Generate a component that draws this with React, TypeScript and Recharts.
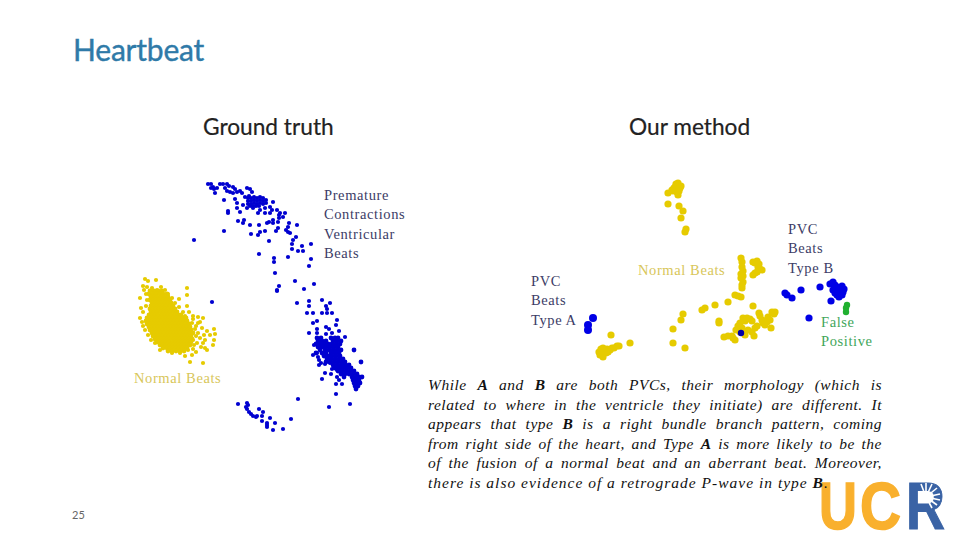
/**
 * Heartbeat slide: ground-truth clusters on the left, our method on the right.
 * Recharts draws the scatter marks; the slide text sits around them.
 */
import { ScatterChart, Scatter, XAxis, YAxis } from 'recharts';

type Pt = [number, number];
type Row = [number, number[]];

const SERIF = '"Liberation Serif", serif';
const SANS = 'Lato, "Open Sans", sans-serif';
const YELLOW = '#e6cb00';
const BLUE = '#0000d0';
const NAVY = '#0000a8';
const BRIGHT = '#0000e6';
const GREEN = '#20b030';

const truthNormalCore: Row[] = [
  [291, [150, 154, 158, 162]],
  [294, [149, 153, 156, 160, 163, 167]],
  [297, [151, 154, 157, 161, 164, 168]],
  [300, [150, 153, 156, 159, 163, 166, 170]],
  [303, [152, 155, 158, 161, 165, 168, 171]],
  [306, [151, 154, 157, 160, 163, 166, 170, 173]],
  [309, [150, 153, 156, 159, 162, 165, 168, 172, 175]],
  [312, [151, 154, 157, 161, 164, 167, 170, 174, 177]],
  [315, [149, 152, 155, 158, 162, 165, 168, 171, 175, 178, 181]],
  [318, [147, 150, 153, 156, 160, 163, 166, 169, 173, 176, 179, 183, 186]],
  [321, [146, 149, 152, 155, 158, 161, 165, 168, 171, 174, 177, 181, 184, 187]],
  [324, [147, 150, 153, 156, 159, 163, 166, 169, 172, 175, 179, 182, 185, 189]],
  [327, [149, 152, 155, 158, 161, 164, 168, 171, 174, 177, 180, 184, 187, 190]],
  [330, [150, 153, 156, 159, 163, 166, 169, 172, 176, 179, 182, 185, 188, 191]],
  [333, [152, 155, 158, 161, 164, 168, 171, 174, 177, 180, 184, 187, 190, 193]],
  [336, [153, 156, 159, 162, 166, 169, 172, 175, 178, 182, 185, 188, 191]],
  [339, [155, 158, 161, 164, 167, 170, 174, 177, 180, 183, 186, 189, 192]],
  [342, [157, 160, 163, 166, 169, 173, 176, 179, 182, 185, 188, 191]],
  [345, [160, 163, 166, 170, 173, 176, 179, 182, 185, 188, 190]],
  [348, [163, 167, 170, 173, 176, 179, 182, 185, 187]],
  [351, [168, 172, 176, 180, 184]],
];

const truthNormalEdge: Pt[] = [
  [145, 279], [148, 281], [156, 280], [187, 288], [143, 286], [144, 290], [161, 287], [165, 290],
  [140, 298], [187, 295], [179, 299], [187, 306], [141, 308], [147, 300], [168, 294], [214, 329],
  [207, 331], [215, 334], [210, 335], [214, 340], [213, 345], [207, 350], [205, 348], [196, 352],
  [192, 355], [185, 356], [190, 362], [203, 363], [172, 353], [180, 353], [202, 328], [203, 318],
  [198, 317], [193, 316], [193, 319], [200, 322], [140, 318], [142, 322], [145, 330], [151, 340],
  [155, 343], [200, 338], [203, 343], [198, 333], [196, 326], [205, 340], [194, 345], [201, 347],
  [147, 287], [152, 288], [157, 290], [146, 294], [172, 298], [175, 303], [179, 307], [183, 312],
  [143, 312], [146, 306], [192, 323], [195, 329], [198, 323], [196, 336], [193, 340], [197, 343],
  [189, 312], [185, 316], [143, 326], [148, 335], [204, 335], [160, 350], [188, 350], [193, 349],
];

const truthUpperPvc: Pt[] = [
  [208, 184], [211, 184], [213, 187], [211, 188], [214, 189], [215, 193], [217, 188], [220, 184],
  [223, 184], [227, 184], [229, 186], [225, 188], [227, 191], [230, 192], [233, 187], [235, 189],
  [233, 193], [237, 192], [240, 191], [242, 193], [247, 188], [250, 189], [252, 192], [249, 196],
  [245, 197], [235, 199], [224, 200], [237, 203], [243, 205], [237, 208], [228, 211], [228, 213],
  [240, 212], [247, 208], [273, 202], [270, 207], [265, 208], [260, 210], [253, 208], [258, 213],
  [265, 213], [272, 210], [277, 210], [280, 213], [285, 213], [283, 217], [279, 215], [270, 213],
  [279, 218], [273, 220], [269, 222], [267, 223], [273, 223], [278, 222], [289, 223], [297, 225],
  [288, 227], [286, 230], [288, 232], [290, 233], [278, 228], [276, 231], [265, 231], [259, 225],
  [250, 225], [243, 223], [238, 221], [244, 220], [260, 232], [258, 235], [251, 234], [224, 231],
  [194, 240], [269, 241], [296, 237], [293, 240], [292, 244], [302, 246], [311, 244], [292, 249],
  [298, 251], [303, 251], [259, 254], [274, 258], [274, 262], [288, 257], [311, 259], [309, 266],
  [275, 273], [295, 281], [314, 284], [279, 286], [277, 290], [304, 289], [212, 302],
  [248, 198], [251, 198], [254, 197], [257, 198], [260, 197], [263, 198], [248, 201], [251, 201],
  [254, 200], [257, 201], [260, 200], [263, 201], [266, 200], [248, 204], [251, 204], [254, 203],
  [257, 204], [260, 203], [263, 204], [266, 203], [250, 206], [253, 206], [256, 206], [259, 206],
];

const truthLowerPvc: Row[] = [
  [338, [317, 321, 331, 335, 338]],
  [341, [318, 322, 326, 333, 337, 341]],
  [344, [316, 320, 324, 328, 332, 336, 340]],
  [347, [318, 322, 326, 330, 334, 338]],
  [350, [320, 325, 329, 333, 337, 341, 354]],
  [353, [316, 322, 326, 331, 335, 339]],
  [356, [324, 328, 332, 336, 340]],
  [359, [327, 331, 335, 339, 343]],
  [362, [326, 330, 334, 338, 342, 345, 361]],
  [365, [333, 337, 341, 345, 349]],
  [368, [335, 339, 343, 347, 351]],
  [371, [338, 342, 346, 350, 354]],
  [374, [341, 345, 349, 353, 357]],
  [377, [344, 352, 356, 359, 362]],
  [380, [353, 356, 359]],
  [383, [354, 357, 360]],
  [386, [355, 358]],
  [389, [356]],
];

const truthLowerScatter: Pt[] = [
  [277, 291], [297, 303], [309, 301], [322, 300], [330, 303], [309, 306], [326, 306], [327, 309],
  [307, 313], [313, 313], [322, 313], [327, 313], [332, 313], [337, 320], [317, 321], [313, 323],
  [336, 325], [326, 327], [329, 329], [317, 329], [339, 331], [332, 333], [326, 334], [309, 333],
  [317, 333], [345, 337], [314, 345], [313, 355], [317, 353], [318, 357], [319, 360], [321, 363],
  [319, 365], [325, 364], [330, 363], [332, 369], [334, 367], [337, 370], [340, 371], [325, 373],
  [331, 374], [344, 375], [337, 377], [339, 380], [322, 379], [336, 384], [342, 384], [336, 394],
  [329, 407], [350, 404], [298, 399],
];

const truthLowerArc: Pt[] = [
  [238, 404], [247, 403], [246, 407], [248, 405], [247, 409], [249, 412], [251, 414], [253, 416],
  [256, 417], [259, 409], [263, 412], [262, 416], [262, 421], [257, 416], [267, 423], [267, 425],
  [267, 427], [270, 418], [275, 423], [273, 430], [283, 429], [291, 419],
];

// ---- Our method

const methodNormal: Pt[] = [
  [678, 183], [675, 187], [680, 188], [677, 192], [668, 193], [672, 190], [678, 195], [668, 204],
  [679, 206], [683, 211], [681, 218], [686, 229], [685, 232], [741, 258], [742, 262], [753, 262],
  [757, 261], [758, 267], [762, 270], [757, 272], [753, 275], [743, 271], [741, 278], [743, 282],
  [742, 288], [735, 295], [741, 297], [728, 302], [715, 305], [705, 308], [702, 310], [753, 306],
  [759, 313], [683, 314], [681, 320], [673, 329], [673, 343], [685, 348], [719, 321], [719, 323],
  [724, 337], [732, 336], [735, 340], [736, 330], [740, 323], [743, 318], [750, 319], [742, 328],
  [745, 335], [748, 330], [755, 328], [754, 336], [762, 320], [767, 322], [771, 328], [768, 317],
  [772, 312], [775, 312], [763, 323], [611, 335], [630, 343], [617, 346], [612, 348], [607, 349],
  [603, 348], [602, 352], [600, 355], [603, 357], [608, 352],
  [676, 184], [674, 188], [677, 189], [681, 186], [679, 191], [673, 191], [604, 350], [606, 353],
  [610, 350], [614, 348], [619, 346], [601, 349], [599, 352], [745, 321], [747, 318], [752, 321],
  [738, 326], [740, 332], [733, 338], [728, 336], [744, 332], [752, 332], [757, 326], [765, 325],
  [770, 320], [760, 316], [764, 321], [774, 314], [742, 267], [741, 274], [743, 276], [742, 285],
  [738, 296], [759, 264], [755, 263], [760, 269], [755, 273],
];

const methodTypeA: Pt[] = [[593, 318], [588, 325], [588, 330]];

const methodTypeB: Pt[] = [
  [785, 293], [787, 295], [792, 298], [801, 290], [820, 287], [831, 301], [809, 318], [833, 282],
  [830, 284], [837, 287], [842, 286], [833, 290], [838, 291], [843, 292], [837, 295], [842, 295],
  [835, 285], [840, 289], [835, 293], [839, 297], [844, 289],
];

const methodStray: Pt[] = [[741, 333]];
const methodFalsePositive: Pt[] = [[847, 305], [846, 308], [846, 312]];

// ---- Text

const prematureLabel = ['Premature', 'Contractions', 'Ventricular', 'Beats'];
const typeALabel = ['PVC', 'Beats', 'Type A'];
const typeBLabel = ['PVC', 'Beats', 'Type B'];
const falsePositiveLabel = ['False', 'Positive'];

const toData = (pts: Pt[]) => pts.map(([x, y]) => ({ x, y }));
const fromRows = (rows: Row[]) => rows.flatMap(([y, xs]) => xs.map((x) => ({ x, y })));

const dot = (r: number) => (p: any) => <circle cx={p.cx} cy={p.cy} r={r} fill={p.fill} />;

function Label({ lines, x, y, color, step = 19.4 }: { lines: string[]; x: number; y: number; color: string; step?: number }) {
  return (
    <>
      {lines.map((t, i) => (
        <div
          key={i}
          style={{
            position: 'absolute', left: x, top: y + i * step, fontFamily: SERIF, fontSize: 14.5,
            lineHeight: '18px', letterSpacing: 0.6, color, whiteSpace: 'nowrap',
          }}
        >
          {t}
        </div>
      ))}
    </>
  );
}

function Panel({ left, top, width, height, children }: any) {
  return (
    <div style={{ position: 'absolute', left, top }}>
      <ScatterChart width={width} height={height} margin={{ top: 0, right: 0, bottom: 0, left: 0 }}>
        <XAxis dataKey="x" type="number" hide domain={[left, left + width]} />
        <YAxis dataKey="y" type="number" hide reversed domain={[top, top + height]} />
        {children}
      </ScatterChart>
    </div>
  );
}

const paragraph: React.ReactNode[] = [
  <>While <b>A</b> and <b>B</b> are both PVCs, their morphology (which is</>,
  <>related to where in the ventricle they initiate) are different. It</>,
  <>appears that type <b>B</b> is a right bundle branch pattern, coming</>,
  <>from right side of the heart, and Type <b>A</b> is more likely to be the</>,
  <>of the fusion of a normal beat and an aberrant beat. Moreover,</>,
  <>there is also evidence of a retrograde P-wave in type <b>B</b>.</>,
];

const sunRays: Pt[] = [[921, 484], [926, 483], [932, 484], [937, 488], [940, 494], [940, 500], [937, 505], [932, 508]];

function Logo() {
  return (
    <svg width={170} height={90} style={{ position: 'absolute', left: 790, top: 450 }} viewBox="790 450 170 90">
      <g fontFamily='"Liberation Sans", sans-serif' fontWeight={700} fontSize={66}>
        <text x={819} y={529} textLength={38} lengthAdjust="spacingAndGlyphs" fill="#f9b02d" stroke="#f9b02d" strokeWidth={1.5}>U</text>
        <text x={860} y={529} textLength={41} lengthAdjust="spacingAndGlyphs" fill="#f9b02d" stroke="#f9b02d" strokeWidth={1.5}>C</text>
        <text x={906} y={529} textLength={39} lengthAdjust="spacingAndGlyphs" fill="#3a63a5" stroke="#3a63a5" strokeWidth={1}>R</text>
      </g>
      <circle cx={926} cy={497} r={6} fill="#fff" />
      {sunRays.map(([x, y], i) => (
        <line key={i} x1={926} y1={497} x2={x} y2={y} stroke="#fff" strokeWidth={1.6} />
      ))}
    </svg>
  );
}

export default function App() {
  return (
    <div style={{ position: 'absolute', left: 0, top: 0, width: 960, height: 540, background: '#fff', overflow: 'hidden' }}>
      <Logo />

      <div style={{ position: 'absolute', left: 73, top: 31, fontFamily: SANS, fontSize: 30, lineHeight: '36px', color: '#2f7aa8', letterSpacing: -0.2, WebkitTextStroke: '0.4px #2f7aa8' }}>
        Heartbeat
      </div>
      <div style={{ position: 'absolute', left: 203, top: 114, fontFamily: SANS, fontSize: 22.7, lineHeight: '26px', color: '#222', WebkitTextStroke: '0.2px #222' }}>
        Ground truth
      </div>
      <div style={{ position: 'absolute', left: 629, top: 114, fontFamily: SANS, fontSize: 22.7, lineHeight: '26px', color: '#222', WebkitTextStroke: '0.2px #222' }}>
        Our method
      </div>

      <Panel left={130} top={175} width={240} height={265}>
        <Scatter data={fromRows(truthNormalCore)} fill={YELLOW} shape={dot(2.4)} isAnimationActive={false} />
        <Scatter data={toData(truthNormalEdge)} fill={YELLOW} shape={dot(2.1)} isAnimationActive={false} />
        <Scatter data={toData(truthUpperPvc)} fill={BLUE} shape={dot(2.1)} isAnimationActive={false} />
        <Scatter data={fromRows(truthLowerPvc)} fill={BLUE} shape={dot(2.4)} isAnimationActive={false} />
        <Scatter data={toData(truthLowerScatter)} fill={BLUE} shape={dot(2.1)} isAnimationActive={false} />
        <Scatter data={toData(truthLowerArc)} fill={BLUE} shape={dot(2.1)} isAnimationActive={false} />
      </Panel>

      <Panel left={580} top={175} width={290} height={190}>
        <Scatter data={toData(methodNormal)} fill={YELLOW} shape={dot(3.6)} isAnimationActive={false} />
        <Scatter data={toData(methodTypeA)} fill={BRIGHT} shape={dot(4)} isAnimationActive={false} />
        <Scatter data={toData(methodTypeB)} fill={BRIGHT} shape={dot(3.6)} isAnimationActive={false} />
        <Scatter data={toData(methodStray)} fill={NAVY} shape={dot(3.2)} isAnimationActive={false} />
        <Scatter data={toData(methodFalsePositive)} fill={GREEN} shape={dot(3.2)} isAnimationActive={false} />
      </Panel>

      <Label lines={prematureLabel} x={324} y={186} color="#3c3c66" />
      <Label lines={['Normal Beats']} x={134} y={369} color="#d8c65a" />
      <Label lines={['Normal Beats']} x={638} y={261} color="#d8c65a" />
      <Label lines={typeALabel} x={531} y={272} color="#3c3c66" />
      <Label lines={typeBLabel} x={788} y={220} color="#3c3c66" />
      <Label lines={falsePositiveLabel} x={821} y={313} color="#3fa65a" />

      <div style={{ position: 'absolute', left: 428, top: 375, width: 454, fontFamily: SERIF, fontStyle: 'italic', fontSize: 15.5, lineHeight: '19.5px', color: '#111' }}>
        {paragraph.map((line, i) => (
          <div key={i} style={{ textAlign: 'justify', textAlignLast: i === 5 ? 'left' : 'justify', whiteSpace: i === 5 ? 'nowrap' : 'normal', letterSpacing: i === 5 ? 1 : 0.5 }}>
            {line}
          </div>
        ))}
      </div>

      <div style={{ position: 'absolute', left: 72, top: 508, fontFamily: SANS, fontSize: 11, lineHeight: '14px', color: '#666' }}>25</div>
    </div>
  );
}
